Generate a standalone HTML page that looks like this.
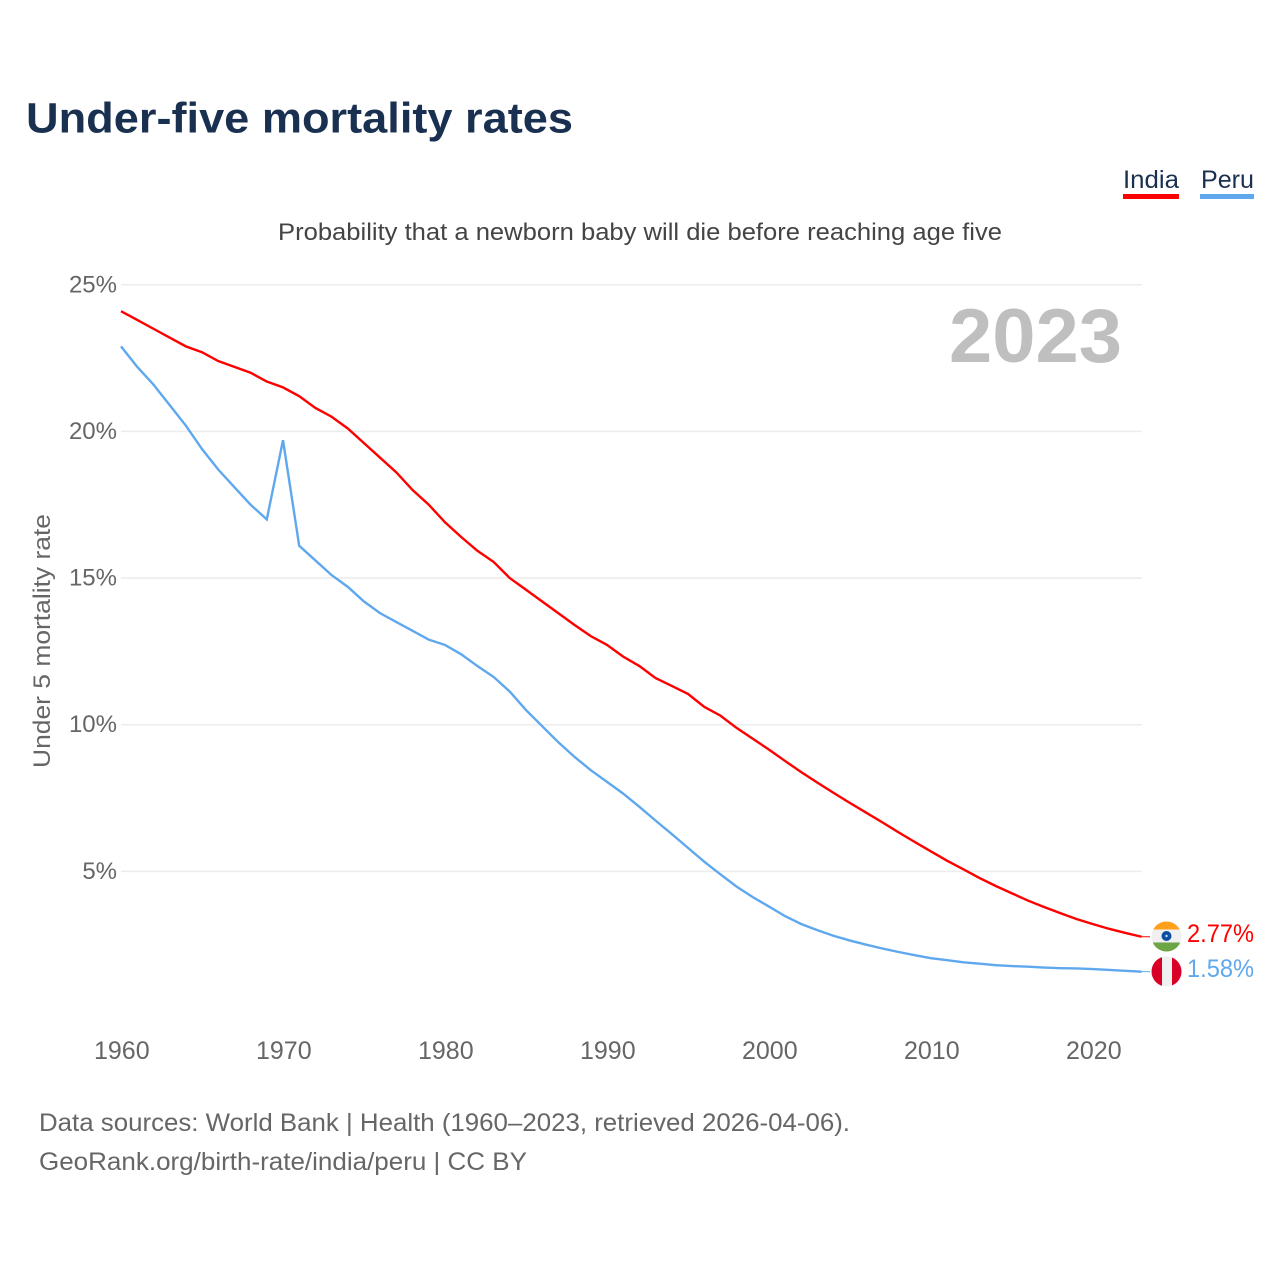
<!DOCTYPE html>
<html lang="en">
<head>
<meta charset="utf-8">
<title>Under-five mortality rates</title>
<style>
html,body{margin:0;padding:0;background:#fff;width:1280px;height:1280px;overflow:hidden}
svg{display:block}
text{font-family:"Liberation Sans",sans-serif}
</style>
</head>
<body>
<svg id="chart" xmlns="http://www.w3.org/2000/svg" width="1280" height="1280" viewBox="0 0 1280 1280">
<defs>
<clipPath id="flag-clip-india"><circle cx="1166.5" cy="936.5" r="15"/></clipPath>
<clipPath id="flag-clip-peru"><circle cx="1166.5" cy="971.5" r="15"/></clipPath>
</defs>
<text x="26" y="132.5" font-size="43" font-weight="700" fill="#1a3050" textLength="547" lengthAdjust="spacingAndGlyphs">Under-five mortality rates</text>
<g>
<g>
<text x="1123" y="188" font-size="25" fill="#1a3050" textLength="56" lengthAdjust="spacingAndGlyphs">India</text>
<rect x="1123" y="194" width="56" height="5" fill="#ff0000"/>
</g>
<g>
<text x="1201" y="188" font-size="25" fill="#1a3050" textLength="53" lengthAdjust="spacingAndGlyphs">Peru</text>
<rect x="1200" y="194" width="54" height="5" fill="#5fa8ee"/>
</g>
</g>
<text x="278" y="240" font-size="24" fill="#444444" textLength="724" lengthAdjust="spacingAndGlyphs">Probability that a newborn baby will die before reaching age five</text>
<g id="grid"></g>
<g id="y-ticks"></g>
<g id="x-ticks"></g>
<text transform="translate(50,768) rotate(-90)" x="0" y="0" font-size="24" fill="#666666" textLength="254" lengthAdjust="spacingAndGlyphs">Under 5 mortality rate</text>
<text x="949" y="362" font-size="76" font-weight="700" fill="#bfbfbf" textLength="173" lengthAdjust="spacingAndGlyphs">2023</text>
<g id="series"></g>
<g clip-path="url(#flag-clip-india)">
<rect x="1151" y="921" width="31" height="31" fill="#f0f0f0"/>
<rect x="1151" y="921" width="31" height="8.5" fill="#ff9f1c"/>
<rect x="1151" y="942.5" width="31" height="9.5" fill="#6da544"/>
<circle cx="1166.5" cy="936" r="5" fill="#0b4ea2"/>
<circle cx="1166.5" cy="936" r="1.2" fill="#cfe0f2"/>
</g>
<g clip-path="url(#flag-clip-peru)">
<rect x="1151" y="956" width="31" height="31" fill="#f0f0f0"/>
<rect x="1151" y="956" width="11" height="31" fill="#d80027"/>
<rect x="1172" y="956" width="10" height="31" fill="#d80027"/>
</g>
<text x="1187" y="942" font-size="25" fill="#ff0000" textLength="67" lengthAdjust="spacingAndGlyphs">2.77%</text>
<text x="1187" y="977" font-size="25" fill="#5fa8ee" textLength="67" lengthAdjust="spacingAndGlyphs">1.58%</text>
<text x="39" y="1131" font-size="25" fill="#666666" textLength="811" lengthAdjust="spacingAndGlyphs">Data sources: World Bank | Health (1960–2023, retrieved 2026-04-06).</text>
<text x="39" y="1170" font-size="25" fill="#666666" textLength="488" lengthAdjust="spacingAndGlyphs">GeoRank.org/birth-rate/india/peru | CC BY</text>
</svg>
<script>
const startYear = 1960;
const yTickValues = [5, 10, 15, 20, 25];
const xTickYears = [1960, 1970, 1980, 1990, 2000, 2010, 2020];
const indiaValues = [24.1,23.8,23.5,23.2,22.9,22.7,22.4,22.2,22.0,21.7,21.5,21.2,20.8,20.5,20.1,19.6,19.1,18.6,18.0,17.5,16.9,16.4,15.93,15.55,15.0,14.6,14.2,13.8,13.4,13.02,12.72,12.32,12.0,11.59,11.32,11.05,10.61,10.31,9.89,9.52,9.15,8.76,8.38,8.02,7.67,7.33,7.0,6.67,6.33,6.0,5.68,5.36,5.07,4.77,4.5,4.25,4.0,3.78,3.57,3.37,3.2,3.04,2.9,2.77];
const peruValues = [22.9,22.2,21.6,20.9,20.2,19.4,18.7,18.1,17.5,17.0,19.7,16.1,15.6,15.1,14.7,14.2,13.8,13.5,13.2,12.9,12.72,12.4,12.0,11.63,11.13,10.5,9.95,9.4,8.9,8.45,8.05,7.65,7.2,6.73,6.27,5.8,5.33,4.9,4.48,4.12,3.8,3.47,3.2,2.99,2.8,2.64,2.5,2.37,2.25,2.14,2.04,1.97,1.9,1.85,1.8,1.77,1.75,1.72,1.7,1.69,1.67,1.64,1.61,1.58];

const SVG_NS = 'http://www.w3.org/2000/svg';
const xScale = function (year) { return 121 + (year - 1960) * 16.2; };
const yScale = function (value) { return 1018 - value * 29.33; };
const gridGroup = document.getElementById('grid');
const yTickGroup = document.getElementById('y-ticks');
const xTickGroup = document.getElementById('x-ticks');
const seriesGroup = document.getElementById('series');

yTickValues.forEach(function (value) {
  const line = document.createElementNS(SVG_NS, 'line');
  
  
  line.setAttribute('x1', 121);
  line.setAttribute('x2', 1142);
  line.setAttribute('y1', yScale(value));
  line.setAttribute('y2', yScale(value));
  line.setAttribute('stroke', '#ececec');
  line.setAttribute('stroke-width', 1.5);
  gridGroup.appendChild(line);

  const label = document.createElementNS(SVG_NS, 'text');
  
  
  label.setAttribute('x', 117);
  label.setAttribute('y', yScale(value) + 7.5);
  label.setAttribute('text-anchor', 'end');
  label.setAttribute('font-size', 24);
  label.setAttribute('fill', '#666666');
  label.textContent = value + '%';
  yTickGroup.appendChild(label);
});

xTickYears.forEach(function (year) {
  const label = document.createElementNS(SVG_NS, 'text');
  
  
  label.setAttribute('x', xScale(year) + 0.8);
  label.setAttribute('y', 1059);
  label.setAttribute('text-anchor', 'middle');
  label.setAttribute('font-size', 25);
  label.setAttribute('fill', '#666666');
  label.textContent = year;
  xTickGroup.appendChild(label);
});

function buildPoints(values) {
  return values.map(function (value, i) {
    return xScale(startYear + i).toFixed(2) + ',' + yScale(value).toFixed(2);
  }).join(' ');
}

const peruLine = document.createElementNS(SVG_NS, 'polyline');


peruLine.setAttribute('points', buildPoints(peruValues));
peruLine.setAttribute('fill', 'none');
peruLine.setAttribute('stroke', '#5fa8ee');
peruLine.setAttribute('stroke-width', 2.4);
seriesGroup.appendChild(peruLine);

const indiaLine = document.createElementNS(SVG_NS, 'polyline');


indiaLine.setAttribute('points', buildPoints(indiaValues));
indiaLine.setAttribute('fill', 'none');
indiaLine.setAttribute('stroke', '#ff0000');
indiaLine.setAttribute('stroke-width', 2.4);
seriesGroup.appendChild(indiaLine);

const lastYear = startYear + indiaValues.length - 1;

const indiaConnector = document.createElementNS(SVG_NS, 'line');


indiaConnector.setAttribute('x1', xScale(lastYear));
indiaConnector.setAttribute('x2', 1150);
indiaConnector.setAttribute('y1', yScale(indiaValues[indiaValues.length - 1]));
indiaConnector.setAttribute('y2', yScale(indiaValues[indiaValues.length - 1]));
indiaConnector.setAttribute('stroke', '#ff0000');
indiaConnector.setAttribute('stroke-width', 1);
seriesGroup.appendChild(indiaConnector);

const peruConnector = document.createElementNS(SVG_NS, 'line');


peruConnector.setAttribute('x1', xScale(lastYear));
peruConnector.setAttribute('x2', 1150);
peruConnector.setAttribute('y1', yScale(peruValues[peruValues.length - 1]));
peruConnector.setAttribute('y2', yScale(peruValues[peruValues.length - 1]));
peruConnector.setAttribute('stroke', '#5fa8ee');
peruConnector.setAttribute('stroke-width', 1);
seriesGroup.appendChild(peruConnector);
</script>
</body>
</html>
